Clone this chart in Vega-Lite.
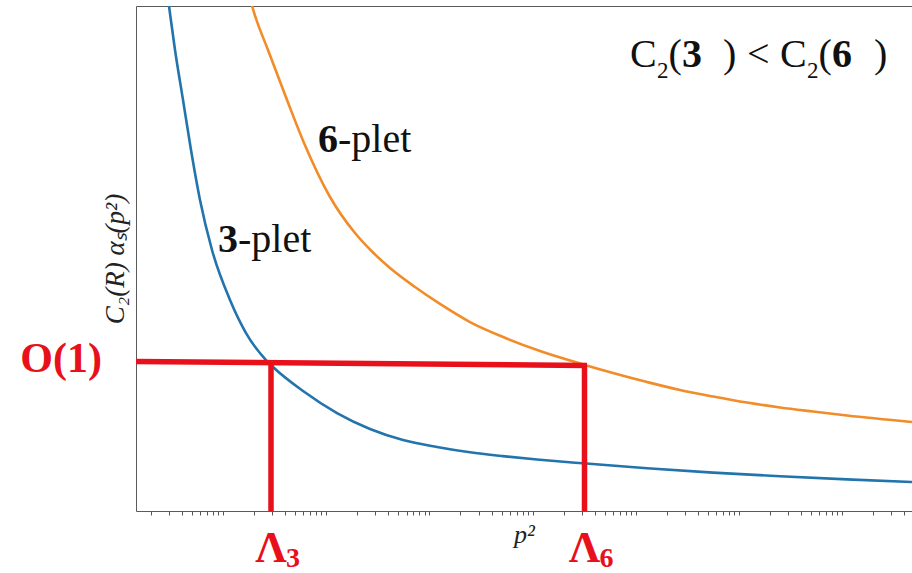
{
  "$schema": "https://vega.github.io/schema/vega-lite/v6.json",
  "width": 776,
  "height": 505,
  "autosize": "none",
  "padding": {"left": 136, "top": 6, "right": 0, "bottom": 62},
  "background": "white",
  "config": {
    "view": {"stroke": "#5a5a5a", "strokeWidth": 1},
    "text": {"font": "Liberation Serif", "color": "#111111"}
  },
  "datasets": {
    "couplings": [
      {"rep": "3", "p2": 2.767, "alpha": 5.257},
      {"rep": "3", "p2": 2.997, "alpha": 5.0},
      {"rep": "3", "p2": 3.427, "alpha": 4.564},
      {"rep": "3", "p2": 4.097, "alpha": 4.069},
      {"rep": "3", "p2": 4.897, "alpha": 3.574},
      {"rep": "3", "p2": 5.985, "alpha": 3.079},
      {"rep": "3", "p2": 7.823, "alpha": 2.584},
      {"rep": "3", "p2": 11.69, "alpha": 2.089},
      {"rep": "3", "p2": 16.71, "alpha": 1.762},
      {"rep": "3", "p2": 26.1, "alpha": 1.495},
      {"rep": "3", "p2": 30.51, "alpha": 1.426},
      {"rep": "3", "p2": 59.61, "alpha": 1.188},
      {"rep": "3", "p2": 127.3, "alpha": 0.97},
      {"rep": "3", "p2": 265.7, "alpha": 0.812},
      {"rep": "3", "p2": 554.9, "alpha": 0.703},
      {"rep": "3", "p2": 1185, "alpha": 0.634},
      {"rep": "3", "p2": 2474, "alpha": 0.581},
      {"rep": "3", "p2": 5167, "alpha": 0.543},
      {"rep": "3", "p2": 11030, "alpha": 0.51},
      {"rep": "3", "p2": 30790, "alpha": 0.472},
      {"rep": "3", "p2": 128400, "alpha": 0.424},
      {"rep": "3", "p2": 559900, "alpha": 0.38},
      {"rep": "3", "p2": 2496000, "alpha": 0.344},
      {"rep": "3", "p2": 11130000, "alpha": 0.313},
      {"rep": "3", "p2": 47470000, "alpha": 0.287},
      {"rep": "6", "p2": 17.86, "alpha": 5.119},
      {"rep": "6", "p2": 19.53, "alpha": 4.97},
      {"rep": "6", "p2": 27.29, "alpha": 4.564},
      {"rep": "6", "p2": 41.72, "alpha": 4.069},
      {"rep": "6", "p2": 60.96, "alpha": 3.644},
      {"rep": "6", "p2": 108.9, "alpha": 3.109},
      {"rep": "6", "p2": 190.2, "alpha": 2.752},
      {"rep": "6", "p2": 277.8, "alpha": 2.569},
      {"rep": "6", "p2": 415.2, "alpha": 2.406},
      {"rep": "6", "p2": 725.4, "alpha": 2.218},
      {"rep": "6", "p2": 1267, "alpha": 2.05},
      {"rep": "6", "p2": 2474, "alpha": 1.871},
      {"rep": "6", "p2": 5167, "alpha": 1.723},
      {"rep": "6", "p2": 11795, "alpha": 1.584},
      {"rep": "6", "p2": 32190, "alpha": 1.446},
      {"rep": "6", "p2": 60140, "alpha": 1.366},
      {"rep": "6", "p2": 128400, "alpha": 1.277},
      {"rep": "6", "p2": 268200, "alpha": 1.198},
      {"rep": "6", "p2": 559900, "alpha": 1.134},
      {"rep": "6", "p2": 1195000, "alpha": 1.074},
      {"rep": "6", "p2": 2496000, "alpha": 1.025},
      {"rep": "6", "p2": 5213000, "alpha": 0.985},
      {"rep": "6", "p2": 11130000, "alpha": 0.946},
      {"rep": "6", "p2": 47470000, "alpha": 0.881}
    ],
    "multiplets": [
      {"rep": "3", "label_p2": 8.946, "label_alpha": 2.564, "lambda": 29.18, "alpha_star": 1.468},
      {"rep": "6", "label_p2": 83.27, "label_alpha": 3.554, "lambda": 31830, "alpha_star": 1.441}
    ],
    "plateau": [
      {"p2_from": 1.435, "alpha_from": 1.48, "p2_to": 33660, "alpha_to": 1.441}
    ],
    "casimir": [
      {"lhs": "3", "rhs": "6", "p2": 87870, "alpha": 4.396}
    ]
  },
  "layer": [
    {
      "data": {"name": "couplings"},
      "mark": {"type": "line", "clip": true, "strokeWidth": 2.6, "interpolate": "monotone"},
      "encoding": {
        "x": {
          "field": "p2", "type": "quantitative",
          "scale": {"type": "log", "domain": [1.435, 47470000], "nice": false},
          "axis": {
            "title": "p²", "titleFont": "Liberation Serif", "titleFontStyle": "italic",
            "titleFontWeight": "normal", "titleFontSize": 26, "titleColor": "#222222",
            "titlePadding": 6, "domain": false, "labels": false, "grid": false,
            "ticks": true, "tickSize": 4, "tickColor": "#555555", "tickWidth": 1,
            "values": [2,3,4,5,6,7,8,9,10,20,30,40,50,60,70,80,90,100,200,300,400,500,600,700,800,900,1000,2000,3000,4000,5000,6000,7000,8000,9000,10000,20000,30000,40000,50000,60000,70000,80000,90000,100000,200000,300000,400000,500000,600000,700000,800000,900000,1000000,2000000,3000000,4000000,5000000,6000000,7000000,8000000,9000000,10000000,20000000,30000000,40000000]
          }
        },
        "y": {
          "field": "alpha", "type": "quantitative",
          "scale": {"domain": [0, 5], "nice": false, "zero": false},
          "axis": {
            "title": "C₂(R)  αₛ(p²)", "titleFont": "Liberation Serif", "titleFontStyle": "italic",
            "titleFontWeight": "normal", "titleFontSize": 27, "titleColor": "#222222",
            "titlePadding": 7, "domain": false, "labels": false, "ticks": false, "grid": false
          }
        },
        "color": {
          "field": "rep", "type": "nominal",
          "scale": {"domain": ["3", "6"], "range": ["#2274ad", "#f28c28"]},
          "legend": null
        }
      }
    },
    {
      "data": {"name": "plateau"},
      "mark": {"type": "rule", "color": "#e8101a", "strokeWidth": 5.5, "strokeCap": "butt"},
      "encoding": {
        "x": {"field": "p2_from", "type": "quantitative"},
        "x2": {"field": "p2_to"},
        "y": {"field": "alpha_from", "type": "quantitative"},
        "y2": {"field": "alpha_to"}
      }
    },
    {
      "data": {"name": "multiplets"},
      "mark": {"type": "rule", "color": "#e8101a", "strokeWidth": 5.5, "strokeCap": "butt"},
      "encoding": {
        "x": {"field": "lambda", "type": "quantitative"},
        "y": {"field": "alpha_star", "type": "quantitative"},
        "y2": {"datum": 0}
      }
    },
    {
      "data": {"name": "plateau"},
      "mark": {"type": "text", "text": "O(1)", "align": "right", "baseline": "alphabetic", "dx": -34, "dy": 10.5, "fontSize": 42, "fontWeight": "bold", "color": "#e8101a"},
      "encoding": {
        "x": {"field": "p2_from", "type": "quantitative"},
        "y": {"field": "alpha_from", "type": "quantitative"}
      }
    },
    {
      "data": {"name": "multiplets"},
      "mark": {"type": "text", "text": "Λ", "align": "center", "baseline": "alphabetic", "dy": 51, "fontSize": 44, "fontWeight": "bold", "color": "#e8101a"},
      "encoding": {
        "x": {"field": "lambda", "type": "quantitative"},
        "y": {"datum": 0}
      }
    },
    {
      "data": {"name": "multiplets"},
      "mark": {"type": "text", "align": "left", "baseline": "alphabetic", "dx": 15, "dy": 56, "fontSize": 28, "fontWeight": "bold", "color": "#e8101a"},
      "encoding": {
        "x": {"field": "lambda", "type": "quantitative"},
        "y": {"datum": 0},
        "text": {"field": "rep"}
      }
    },
    {
      "data": {"name": "multiplets"},
      "mark": {"type": "text", "align": "left", "baseline": "alphabetic", "fontSize": 40, "fontWeight": "bold"},
      "encoding": {
        "x": {"field": "label_p2", "type": "quantitative"},
        "y": {"field": "label_alpha", "type": "quantitative"},
        "text": {"field": "rep"}
      }
    },
    {
      "data": {"name": "multiplets"},
      "mark": {"type": "text", "text": "-plet", "align": "left", "baseline": "alphabetic", "dx": 20, "fontSize": 40},
      "encoding": {
        "x": {"field": "label_p2", "type": "quantitative"},
        "y": {"field": "label_alpha", "type": "quantitative"}
      }
    },
    {
      "data": {"name": "casimir"},
      "encoding": {
        "x": {"field": "p2", "type": "quantitative"},
        "y": {"field": "alpha", "type": "quantitative"}
      },
      "layer": [
        {"mark": {"type": "text", "text": "C", "align": "left", "baseline": "alphabetic", "dx": 0, "fontSize": 40}},
        {"mark": {"type": "text", "text": "2", "align": "left", "baseline": "alphabetic", "dx": 27, "dy": 11, "fontSize": 23}},
        {"mark": {"type": "text", "text": "(", "align": "left", "baseline": "alphabetic", "dx": 38.5, "fontSize": 40}},
        {"mark": {"type": "text", "align": "left", "baseline": "alphabetic", "dx": 52, "fontSize": 40, "fontWeight": "bold"}, "encoding": {"text": {"field": "lhs"}}},
        {"mark": {"type": "text", "text": ")", "align": "left", "baseline": "alphabetic", "dx": 93, "fontSize": 40}},
        {"mark": {"type": "text", "text": "<", "align": "left", "baseline": "alphabetic", "dx": 117, "fontSize": 40}},
        {"mark": {"type": "text", "text": "C", "align": "left", "baseline": "alphabetic", "dx": 150, "fontSize": 40}},
        {"mark": {"type": "text", "text": "2", "align": "left", "baseline": "alphabetic", "dx": 177, "dy": 11, "fontSize": 23}},
        {"mark": {"type": "text", "text": "(", "align": "left", "baseline": "alphabetic", "dx": 188.5, "fontSize": 40}},
        {"mark": {"type": "text", "align": "left", "baseline": "alphabetic", "dx": 202, "fontSize": 40, "fontWeight": "bold"}, "encoding": {"text": {"field": "rhs"}}},
        {"mark": {"type": "text", "text": ")", "align": "left", "baseline": "alphabetic", "dx": 244, "fontSize": 40}}
      ]
    }
  ]
}
